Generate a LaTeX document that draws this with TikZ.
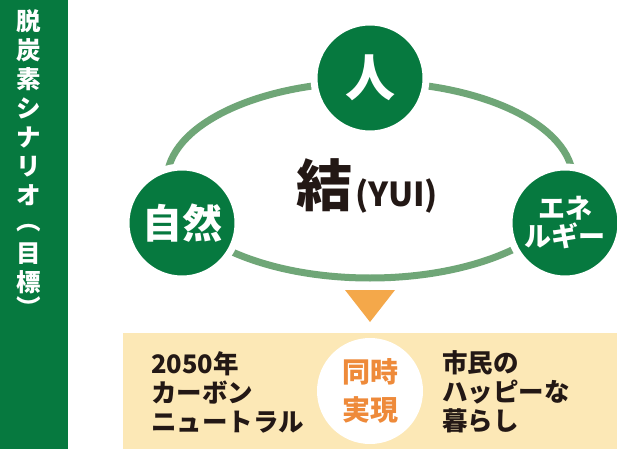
\documentclass[tikz,border=0pt]{standalone}
\usepackage{fontspec}
\setmainfont{Noto Sans CJK JP}
\newfontfamily\jp{Noto Sans CJK JP}
\definecolor{dkgreen}{HTML}{06793F}
\definecolor{ringgreen}{HTML}{6FA677}
\definecolor{beige}{HTML}{FCE8B6}
\definecolor{orng}{HTML}{F4A84A}
\definecolor{orngtxt}{HTML}{EE8A3A}
\definecolor{ink}{HTML}{231815}
\newcommand\vparen[1]{\raisebox{0.12em}{\rotatebox[origin=c]{-90}{#1}}}
\begin{document}
\begin{tikzpicture}[x=1pt,y=-1pt,
  bigcirc/.style={circle,fill=dkgreen,draw=white,line width=7pt,minimum size=112pt,inner sep=0pt,text=white,font=\jp\bfseries},
  bodytxt/.style={text=ink,font=\jp\bfseries\fontsize{25.5}{29}\selectfont,align=left,anchor=west,inner sep=0pt}]
\useasboundingbox (0,0) rectangle (617,449);
\fill[white] (0,0) rectangle (617,449);
% left bar
\fill[dkgreen] (0,0) rectangle (68,449);
\node[text=white,font=\jp\bfseries\fontsize{24.5}{29}\selectfont,align=center,anchor=north,inner sep=0pt] (title) at (29,9)
 {脱\\炭\\素\\シ\\ナ\\リ\\オ\\\vparen{（}\\目\\標\\\vparen{）}};
% ring
\draw[ringgreen,line width=7pt] (370,180) ellipse [x radius=203, y radius=98];
% circles
\node[bigcirc,font=\jp\bfseries\fontsize{50}{50}\selectfont] (hito) at (370,78) {人};
\node[bigcirc,font=\jp\bfseries\fontsize{40}{40}\selectfont] (shizen) at (182,223) {自然};
\node[bigcirc,font=\jp\bfseries\fontsize{27}{28}\selectfont,align=center] (ene) at (565,223) {エネ\\ルギー};
% center label
\node[text=ink,inner sep=0pt,anchor=base west] (yui) at (296,206) {\jp\bfseries\fontsize{56}{56}\selectfont 結\hspace{3pt}\fontsize{33}{33}\selectfont (YUI)};
% triangle
\fill[orng] (345,290) -- (395,290) -- (370,322) -- cycle;
% beige box
\fill[beige] (123,333) rectangle (617,449);
\node[circle,fill=white,minimum size=106pt,inner sep=0pt,align=center,text=orngtxt,font=\jp\bfseries\fontsize{28}{38}\selectfont] (same) at (370,391) {同時\\実現};
\node[bodytxt] (left) at (151,392) {2050年\\カーボン\\ニュートラル};
\node[bodytxt] (right) at (442,392) {市民の\\ハッピーな\\暮らし};
\end{tikzpicture}
\end{document}
